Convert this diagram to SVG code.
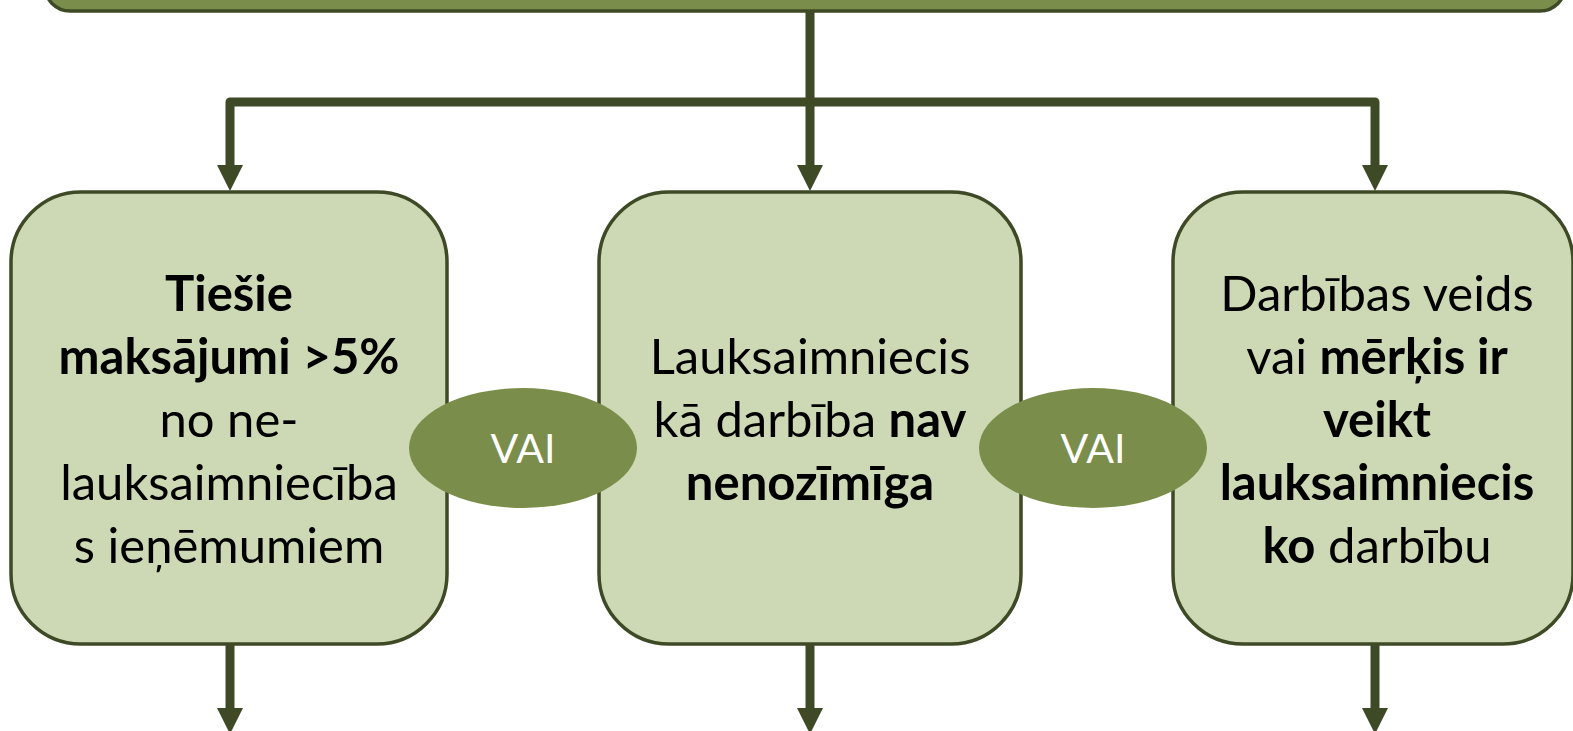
<svg xmlns="http://www.w3.org/2000/svg" width="1573" height="731" viewBox="0 0 1573 731">
<style>
.box{fill:#CDD8B4;stroke:#3E4A25;stroke-width:3.5}
.top{fill:#7B8D4B;stroke:#3E4A25;stroke-width:3.5}
.conn{fill:none;stroke:#3E4A25;stroke-width:9;stroke-linejoin:round}
.ell{fill:#7B8D4B}
.t{font-family:Lato,"Open Sans",sans-serif;font-size:49px;fill:#000;text-anchor:middle}
.b{font-weight:bold}
.vai{font-family:Lato,"Open Sans",sans-serif;font-size:41px;fill:#fff;text-anchor:middle}
</style>
<g id="top-node"><rect class="top" x="45" y="-60" width="1520" height="71" rx="25"/></g>
<g id="connectors">
<path class="conn" d="M810,11 V165"/>
<path class="conn" d="M230,165 V102 H1375 V165"/>
<path d="M217,165 L243,165 L230,191 Z" fill="#3E4A25"/>
<path d="M797,165 L823,165 L810,191 Z" fill="#3E4A25"/>
<path d="M1362,165 L1388,165 L1375,191 Z" fill="#3E4A25"/>
<path class="conn" d="M230,645 V709"/>
<path class="conn" d="M810,645 V709"/>
<path class="conn" d="M1375,645 V709"/>
<path d="M217,708 L243,708 L230,734 Z" fill="#3E4A25"/>
<path d="M797,708 L823,708 L810,734 Z" fill="#3E4A25"/>
<path d="M1362,708 L1388,708 L1375,734 Z" fill="#3E4A25"/>
</g>
<g id="node-left">
<rect class="box" x="11" y="192" width="436" height="452" rx="70"/>
<text class="t b" x="229" y="311">Tiešie</text>
<text class="t b" x="229" y="374">maksājumi &gt;5%</text>
<text class="t" x="229" y="437">no ne-</text>
<text class="t" x="229" y="500">lauksaimniecība</text>
<text class="t" x="229" y="563">s ieņēmumiem</text>
</g>
<g id="node-mid">
<rect class="box" x="599" y="192" width="422" height="452" rx="70"/>
<text class="t" x="810" y="374">Lauksaimniecis</text>
<text class="t" x="810" y="437">kā darbība <tspan class="b">nav</tspan></text>
<text class="t b" x="810" y="500">nenozīmīga</text>
</g>
<g id="node-right">
<rect class="box" x="1173" y="192" width="400" height="452" rx="70"/>
<text class="t" x="1377" y="311">Darbības veids</text>
<text class="t" x="1377" y="374">vai <tspan class="b">mērķis ir</tspan></text>
<text class="t b" x="1377" y="437">veikt</text>
<text class="t b" x="1377" y="500">lauksaimniecis</text>
<text class="t" x="1377" y="563"><tspan class="b">ko</tspan> darbību</text>
</g>
<g id="vai-1">
<ellipse class="ell" cx="523" cy="448" rx="114" ry="60"/>
<text class="vai" x="523" y="463">VAI</text>
</g>
<g id="vai-2">
<ellipse class="ell" cx="1093" cy="448" rx="114" ry="60"/>
<text class="vai" x="1093" y="463">VAI</text>
</g>
</svg>
